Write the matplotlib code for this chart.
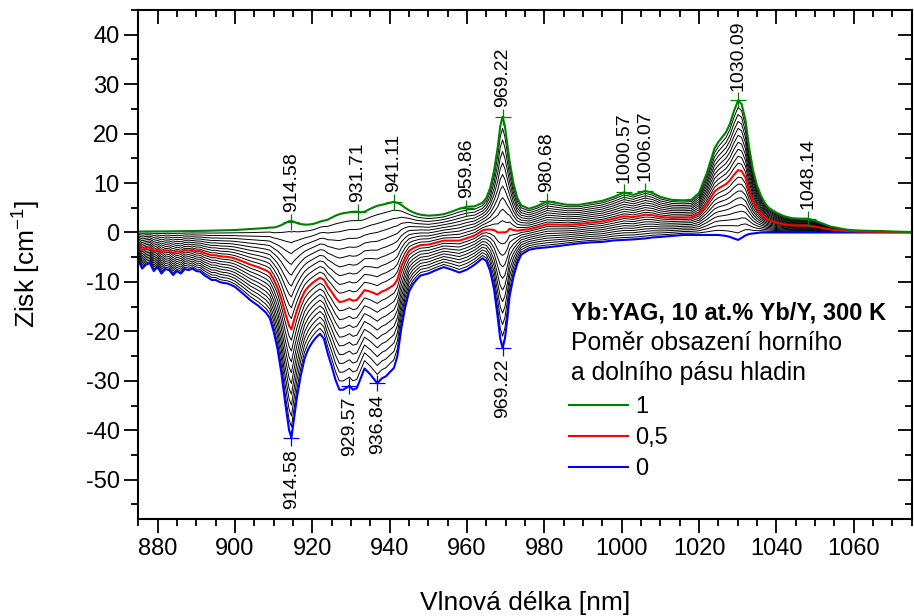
import numpy as np
import matplotlib
import matplotlib.pyplot as plt
from matplotlib.ticker import MultipleLocator
from matplotlib.lines import Line2D

matplotlib.use('Agg')

plt.rcParams['font.family'] = ['Liberation Sans', 'DejaVu Sans']
plt.rcParams['axes.unicode_minus'] = False

# wavelength grid [nm]
wavelength = [
    875, 876, 877, 878, 879, 880, 881, 882, 883, 884, 885, 886, 887, 888, 889,
    890, 891, 892, 893, 894, 895, 896, 897, 898, 899, 900, 902, 904, 906, 908,
    909, 910, 911, 912, 913, 914, 914.6, 915.2, 916, 917, 918, 919, 920, 921,
    922, 923, 924, 925, 926, 927, 928, 929.6, 930.5, 931.5, 932.5, 933.5, 935,
    936.8, 938, 939, 940, 941.1, 942, 943, 944, 945, 946, 947, 948, 950, 952,
    954, 956, 958, 960, 962, 964, 965, 966, 967, 968, 968.6, 969.2, 969.8,
    970.5, 971, 972, 973, 974, 976, 978, 980.7, 983, 986, 989, 992, 995, 998,
    1000.6, 1003, 1006.1, 1008, 1010, 1013, 1016, 1018, 1020, 1021, 1022, 1023,
    1024, 1025, 1026, 1027, 1028, 1029, 1030.1, 1031, 1032, 1033, 1034, 1035,
    1036, 1037, 1038, 1040, 1042, 1044, 1046, 1048.1, 1050, 1052, 1054, 1056,
    1058, 1060, 1063, 1066, 1070, 1075,
]

# gain for full inversion (ratio 1) [cm^-1]
gain_full = [
    0.2, 0.2, 0.2, 0.2, 0.2, 0.2, 0.22, 0.22, 0.24, 0.24, 0.25, 0.26, 0.27,
    0.28, 0.29, 0.3, 0.32, 0.34, 0.36, 0.38, 0.4, 0.42, 0.44, 0.46, 0.48, 0.5,
    0.6, 0.7, 0.8, 0.9, 1.0, 1.0, 1.2, 1.5, 1.9, 2.3, 2.3, 2.2, 1.9, 1.7, 1.6,
    1.6, 1.7, 1.9, 2.2, 2.4, 2.6, 3.0, 3.4, 3.7, 3.9, 4.1, 4.2, 4.2, 4.1, 4.2,
    4.8, 5.4, 5.6, 5.8, 6.0, 6.2, 6.0, 5.6, 5.0, 4.5, 4.1, 3.8, 3.6, 3.4, 3.5,
    3.7, 4.2, 4.8, 5.2, 5.3, 6.0, 7.0, 9.0, 12.5, 17.5, 21.5, 23.4, 21.5, 17.5,
    14.5, 10.0, 7.0, 5.5, 4.8, 5.3, 6.3, 6.0, 5.6, 5.6, 6.0, 6.4, 7.2, 8.1,
    7.6, 8.4, 8.0, 7.2, 6.6, 6.5, 6.6, 8.0, 10.0, 12.0, 14.5, 17.0, 18.3, 19.3,
    20.3, 22.0, 24.5, 26.7, 26.0, 22.8, 17.0, 12.5, 9.5, 7.5, 6.0, 5.0, 4.0,
    3.3, 2.9, 2.8, 2.8, 2.4, 1.8, 1.2, 0.9, 0.6, 0.45, 0.35, 0.3, 0.2, 0.1,
]

# gain for zero inversion (ratio 0) [cm^-1]
gain_zero = [
    -5.6, -7.3, -6.5, -6.2, -7.8, -7.0, -8.3, -7.4, -7.6, -8.6, -7.8, -8.3,
    -7.4, -7.6, -7.3, -7.8, -7.9, -8.6, -9.1, -9.6, -9.6, -10.0, -10.2, -10.3,
    -10.6, -11.0, -12.3, -13.7, -14.8, -16.2, -17.3, -20.0, -23.5, -28.4,
    -34.5, -40.0, -41.5, -38.0, -33.5, -29.0, -25.5, -23.5, -22.2, -21.2,
    -20.5, -21.5, -24.5, -27.0, -29.8, -31.8, -31.8, -31.0, -31.8, -31.5,
    -29.5, -27.5, -28.7, -30.5, -29.5, -29.1, -28.3, -27.4, -25.0, -19.5,
    -15.2, -12.0, -10.5, -9.5, -8.7, -8.3, -7.6, -7.0, -7.5, -8.1, -7.5, -6.5,
    -5.2, -5.8, -7.8, -11.5, -17.5, -21.5, -23.3, -21.5, -17.0, -13.0, -9.0,
    -6.3, -4.5, -3.5, -3.2, -3.0, -2.8, -2.5, -2.2, -2.0, -1.9, -1.6, -1.5,
    -1.4, -1.2, -1.0, -0.9, -0.7, -0.5, -0.5, -0.5, -0.5, -0.5, -0.5, -0.5,
    -0.5, -0.6, -0.7, -0.9, -1.2, -1.5, -1.1, -0.6, -0.3, -0.2, -0.1, 0.0,
    0.0, 0.0, 0.0, 0.0, 0.0, 0.0, 0.0, 0.0, 0.0, 0.0, 0.0, 0.0, 0.0, 0.0,
    0.0, 0.0, 0.0,
]

# inversion ratios drawn as the family of curves
ratios = [i / 20 for i in range(21)]

# labelled peaks
peaks_full = [914.58, 931.71, 941.11, 959.86, 969.22, 980.68,
              1000.57, 1006.07, 1030.09, 1048.14]
peaks_full_gain = [2.1, 4.2, 6.2, 5.0, 23.4, 6.3, 8.1, 8.4, 26.7, 2.8]
peaks_zero = [914.58, 929.57, 936.84, 969.22]
peaks_zero_gain = [-41.5, -31.0, -30.5, -23.3]

x = np.array(wavelength)
g1 = np.array(gain_full)
g0 = np.array(gain_zero)

fig = plt.figure(figsize=(9.14, 6.16), dpi=100)
ax = fig.add_axes([0.1513, 0.157, 0.8462, 0.8268])

for r in ratios:
    if r in (0, 0.5, 1):
        continue
    ax.plot(x, r * g1 + (1 - r) * g0, color='black', lw=0.7)

ax.plot(x, g0, color='#0000ff', lw=1.5)
ax.plot(x, 0.5 * g1 + 0.5 * g0, color='#ff0000', lw=1.5)
ax.plot(x, g1, color='#008000', lw=1.5)

ax.plot(peaks_full, peaks_full_gain, ls='none', marker='+', ms=11,
        mew=0.9, color='#008000')
ax.plot(peaks_zero, peaks_zero_gain, ls='none', marker='+', ms=11,
        mew=0.9, color='#0000ff')

for px, py in zip(peaks_full, peaks_full_gain):
    ax.annotate(f'{px:.2f}', (px, py), xytext=(0, 7), textcoords='offset points',
                rotation=90, ha='center', va='bottom', fontsize=14)
for px, py in zip(peaks_zero, peaks_zero_gain):
    ax.annotate(f'{px:.2f}', (px, py), xytext=(0, -8), textcoords='offset points',
                rotation=90, ha='center', va='top', fontsize=14)

ax.set_xlim(875, 1075)
ax.set_ylim(-58, 45)
ax.xaxis.set_major_locator(MultipleLocator(20))
ax.xaxis.set_minor_locator(MultipleLocator(5))
ax.yaxis.set_major_locator(MultipleLocator(10))
ax.yaxis.set_minor_locator(MultipleLocator(5))
ax.set_yticks([-50, -40, -30, -20, -10, 0, 10, 20, 30, 40])

ax.tick_params(axis='both', which='both', labelsize=17, width=1.3)
ax.tick_params(axis='x', which='major', direction='out', length=10,
               top=True)
ax.tick_params(axis='y', which='major', direction='out', length=10,
               right=True)
ax.tick_params(axis='both', which='minor', direction='out', length=5,
               top=True, right=True)
# top and right ticks point inward
for t in ax.xaxis.get_major_ticks() + ax.xaxis.get_minor_ticks():
    t.tick2line.set_marker(3)
for t in ax.yaxis.get_major_ticks() + ax.yaxis.get_minor_ticks():
    t.tick2line.set_marker(0)

for s in ax.spines.values():
    s.set_linewidth(1.5)

ax.set_xlabel('Vlnová délka [nm]', fontsize=19, labelpad=22)
ax.set_ylabel('Zisk [cm$^{\\mathregular{-1}}$]', fontsize=19, labelpad=31)

ax.text(0.5595, 0.405, 'Yb:YAG, 10 at.% Yb/Y, 300 K', transform=ax.transAxes,
        fontsize=17, fontweight='bold', va='center', ha='left')
ax.text(0.5595, 0.346, 'Poměr obsazení horního', transform=ax.transAxes,
        fontsize=17.8, va='center', ha='left')
ax.text(0.5595, 0.287, 'a dolního pásu hladin', transform=ax.transAxes,
        fontsize=17.8, va='center', ha='left')

handles = [Line2D([], [], color='#008000', lw=1.5),
           Line2D([], [], color='#ff0000', lw=1.5),
           Line2D([], [], color='#0000ff', lw=1.5)]
ax.legend(handles, ['1', '0,5', '0'], loc='upper left',
          bbox_to_anchor=(0.5569, 0.242), frameon=False, fontsize=17,
          handlelength=2.5, handletextpad=0.3, labelspacing=0.39,
          borderpad=0, borderaxespad=0)

fig.savefig('out.png', dpi=100)
